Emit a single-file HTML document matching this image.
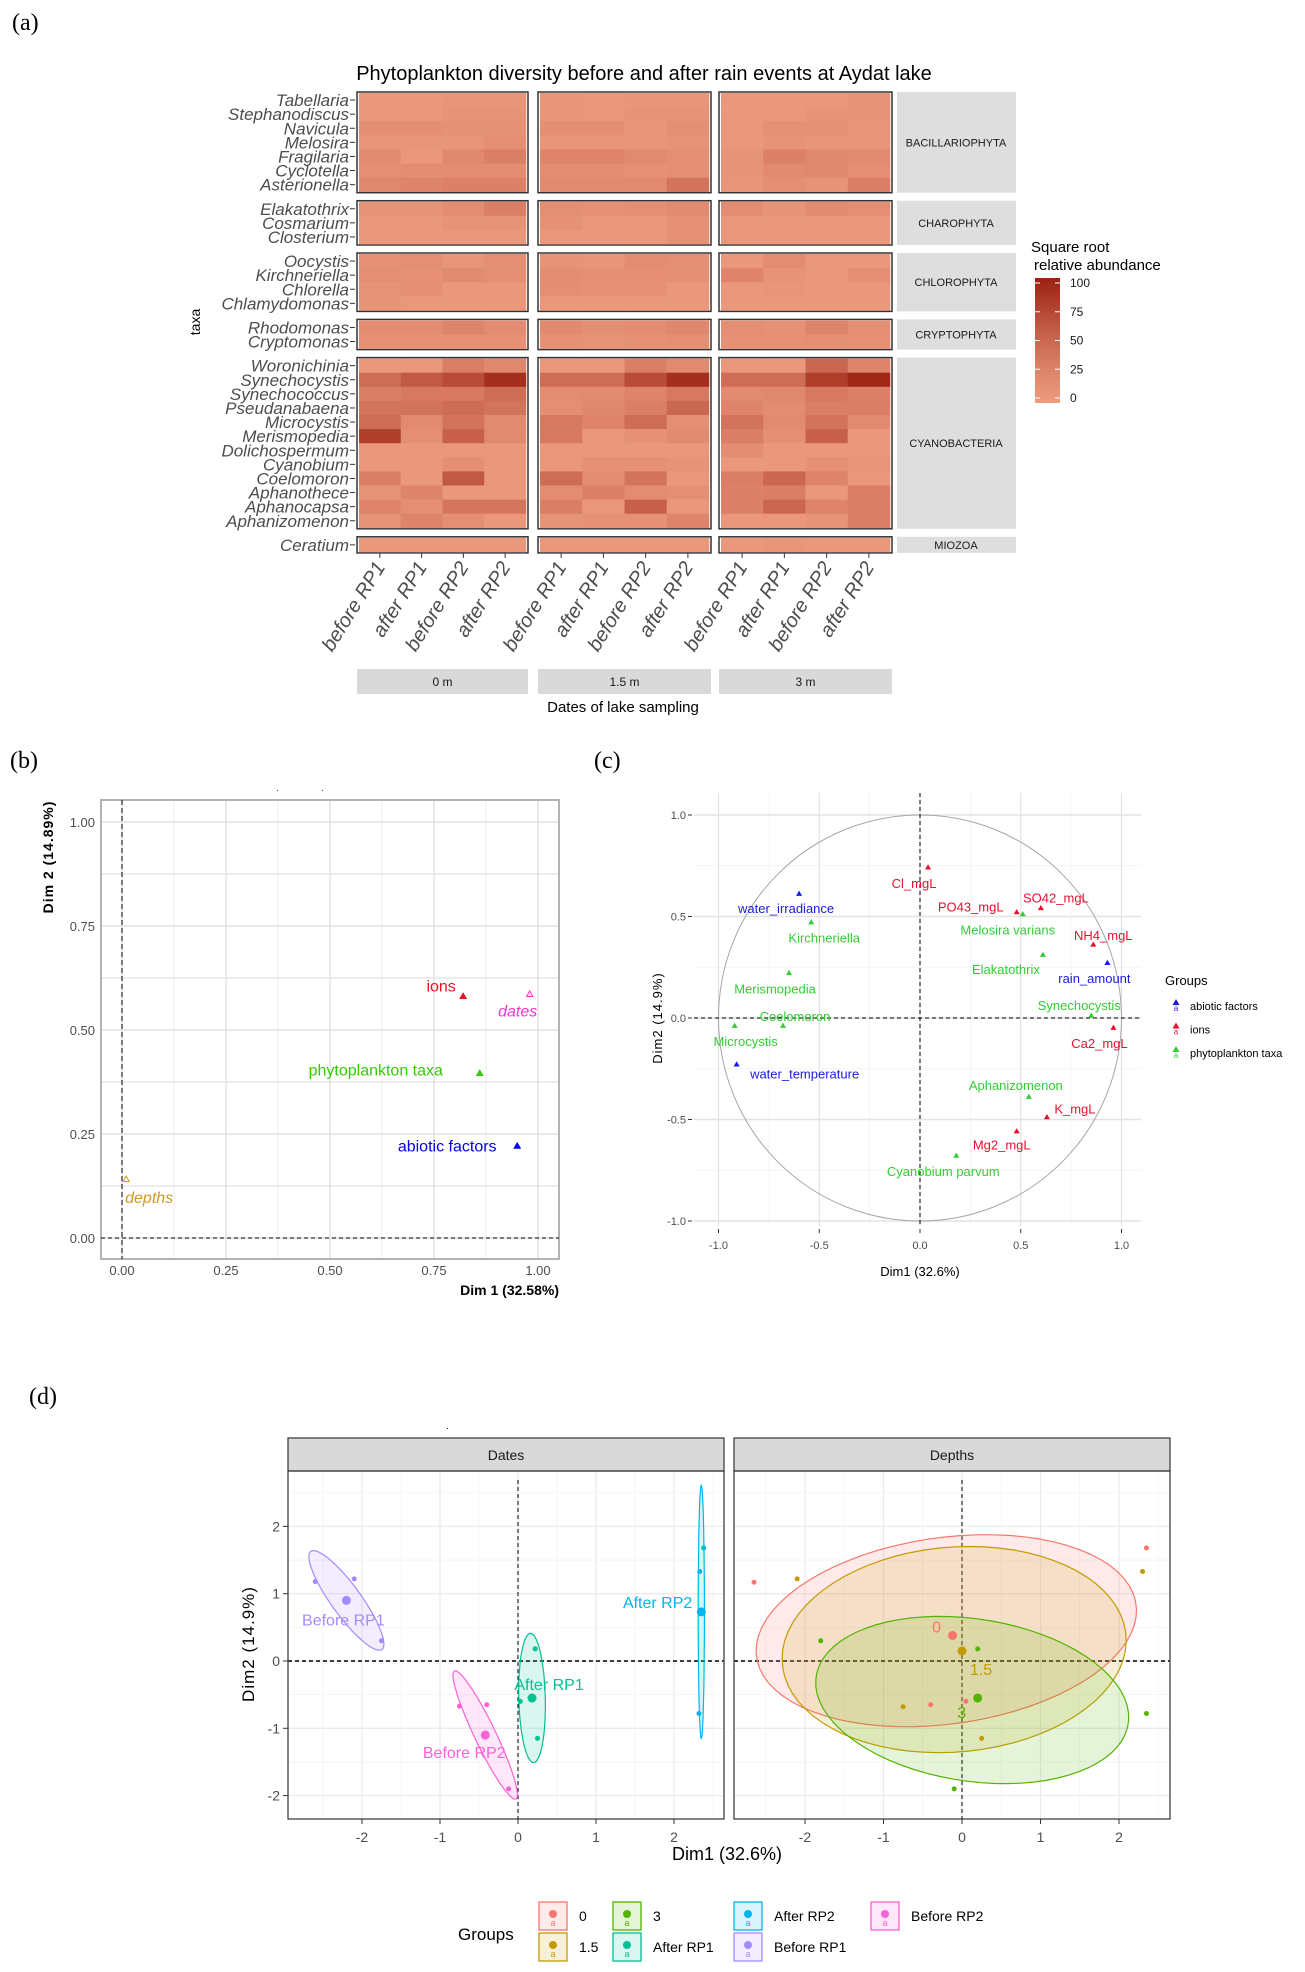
<!DOCTYPE html>
<html><head><meta charset="utf-8"><style>
html,body{margin:0;padding:0;background:#fff}
svg{display:block;font-family:"Liberation Sans",sans-serif}
.lbl{font-family:"Liberation Serif",serif}
</style></head><body>
<svg id="fig" width="1305" height="1972" viewBox="0 0 1305 1972" xmlns="http://www.w3.org/2000/svg">
<rect width="1305" height="1972" fill="#fff"/>
<text class="lbl" x="12" y="30" font-size="24">(a)</text>
<text class="lbl" x="10" y="768" font-size="24">(b)</text>
<text class="lbl" x="594" y="768" font-size="24">(c)</text>
<text class="lbl" x="29" y="1404" font-size="24">(d)</text>
<g id="ga"></g>
<g id="gb"></g>
<g id="gc"></g>
<g id="gd"></g>
</svg>
<script>
// ---------- Panel (a) data ----------
const groupNames=["BACILLARIOPHYTA","CHAROPHYTA","CHLOROPHYTA","CRYPTOPHYTA","CYANOBACTERIA","MIOZOA"];
const groupCounts=[7,3,4,2,12,1];
const taxa=["Tabellaria","Stephanodiscus","Navicula","Melosira","Fragilaria","Cyclotella","Asterionella",
"Elakatothrix","Cosmarium","Closterium",
"Oocystis","Kirchneriella","Chlorella","Chlamydomonas",
"Rhodomonas","Cryptomonas",
"Woronichinia","Synechocystis","Synechococcus","Pseudanabaena","Microcystis","Merismopedia","Dolichospermum","Cyanobium","Coelomoron","Aphanothece","Aphanocapsa","Aphanizomenon",
"Ceratium"];
const depthLabels=["0 m","1.5 m","3 m"];
const dateLabels=["before RP1","after RP1","before RP2","after RP2"];
const heatValues=[
[5,5,8,8, 8,5,8,8, 5,5,5,10],
[5,5,10,10, 8,5,10,10, 5,5,10,10],
[15,15,12,12, 15,15,8,15, 5,12,12,8],
[8,8,8,15, 8,8,8,10, 5,10,8,8],
[20,5,22,30, 25,25,20,15, 10,28,22,20],
[15,18,18,18, 18,18,12,15, 10,20,22,15],
[22,25,28,28, 20,20,20,40, 8,15,10,30],
[10,10,18,30, 15,12,15,20, 18,10,20,15],
[5,5,10,10, 12,5,5,12, 5,5,5,5],
[5,5,5,5, 5,5,5,12, 5,5,5,5],
[12,15,8,15, 10,8,18,15, 5,18,5,5],
[15,12,20,15, 18,15,15,15, 25,10,5,15],
[10,15,5,5, 15,12,12,5, 5,8,5,5],
[10,5,5,5, 5,5,5,5, 5,5,5,5],
[18,18,25,18, 20,15,18,22, 15,12,25,15],
[12,12,12,12, 12,10,12,15, 12,12,15,12],
[5,5,32,22, 5,5,30,20, 5,5,50,25],
[45,60,70,90, 45,45,70,90, 45,45,80,95],
[30,35,35,45, 18,20,25,35, 20,22,35,28],
[40,40,45,40, 15,22,30,50, 25,18,30,30],
[45,20,40,20, 35,25,45,15, 40,20,40,20],
[80,15,55,20, 35,5,12,20, 30,15,55,5],
[5,5,5,5, 5,5,5,5, 18,5,5,5],
[5,5,15,5, 5,12,12,10, 5,5,12,8],
[30,5,60,5, 45,18,40,5, 30,50,25,5],
[10,25,5,5, 18,28,18,15, 28,30,5,30],
[25,15,38,38, 30,5,55,5, 28,50,25,30],
[10,25,15,5, 10,12,12,25, 5,5,10,30],
[5,5,5,5, 5,5,5,5, 5,8,5,5]];
const legendTicks=[0,25,50,75,100];

// ---------- Panel (b) data ----------
const bNames=["ions","dates","phytoplankton taxa","abiotic factors","depths"];
const bX=[0.82,0.98,0.86,0.95,0.01];
const bY=[0.58,0.585,0.395,0.22,0.14];
const bTicks=[0,0.25,0.5,0.75,1];
const bTickLabels=["0.00","0.25","0.50","0.75","1.00"];

// ---------- Panel (c) data ----------
const cNames=["Cl_mgL","water_irradiance","Kirchneriella","PO43_mgL","SO42_mgL","Melosira varians","NH4_mgL","Elakatothrix","rain_amount","Merismopedia","Synechocystis","Coelomoron","Microcystis","Ca2_mgL","water_temperature","Aphanizomenon","K_mgL","Mg2_mgL","Cyanobium parvum"];
const cGroup=[1,0,2,1,1,2,1,2,0,2,2,2,2,1,0,2,1,1,2];
const cX=[0.04,-0.60,-0.54,0.48,0.60,0.51,0.86,0.61,0.93,-0.65,0.85,-0.68,-0.92,0.96,-0.91,0.54,0.63,0.48,0.18];
const cY=[0.74,0.61,0.47,0.52,0.54,0.51,0.36,0.31,0.27,0.22,0.01,-0.04,-0.04,-0.05,-0.23,-0.39,-0.49,-0.56,-0.68];
const cGroupNames=["abiotic factors","ions","phytoplankton taxa"];
const cTicks=[-1,-0.5,0,0.5,1];
const cTickLabels=["-1.0","-0.5","0.0","0.5","1.0"];

// ---------- Panel (d) data ----------
const dTicks=[-2,-1,0,1,2];
const dateGroups=["After RP1","After RP2","Before RP1","Before RP2"];
const dateX=[[0.22,0.03,0.25],[2.38,2.33,2.32],[-2.6,-2.1,-1.75],[-0.75,-0.4,-0.12]];
const dateY=[[0.18,-0.6,-1.15],[1.68,1.33,-0.78],[1.18,1.22,0.3],[-0.67,-0.65,-1.9]];
const dateCX=[0.18,2.35,-2.2,-0.42];
const dateCY=[-0.55,0.73,0.9,-1.1];
const dateEllA=[0.96,1.88,0.86,1.03];
const dateEllB=[0.17,0.04,0.2,0.14];
const dateEllPhi=[-1.55,1.571,-1.02,-1.18];
const depthGroups=["0","1.5","3"];
const depthX=[[-2.65,2.35,-0.4,0.05],[-2.1,2.3,-0.75,0.25],[-1.8,0.2,2.35,-0.1]];
const depthY=[[1.17,1.68,-0.65,-0.6],[1.22,1.33,-0.68,-1.15],[0.3,0.18,-0.78,-1.9]];
const depthCX=[-0.12,0,0.2];
const depthCY=[0.38,0.15,-0.55];
const depthEllCX=[-0.2,-0.1,0.13];
const depthEllCY=[0.45,0.17,-0.58];
const depthEllA=[2.45,2.2,2.02];
const depthEllB=[1.38,1.52,1.2];
const depthEllPhi=[0.18,0.12,-0.2];
const legendGroups=["0","1.5","3","After RP1","After RP2","Before RP1","Before RP2"];

// ---------- helpers ----------
const NS="http://www.w3.org/2000/svg";
function mk(parent,tag,attrs,txt){const e=document.createElementNS(NS,tag);for(const k in attrs)e.setAttribute(k,attrs[k]);if(txt!==undefined)e.textContent=txt;parent.appendChild(e);return e;}
function tri(x,y,s){return `${x},${y-s} ${x-s*0.87},${y+s*0.5} ${x+s*0.87},${y+s*0.5}`;}
function heatColor(v){const t=Math.pow(Math.max(0,Math.min(1,v/100)),1.25);const a=[236,154,126],b=[155,32,16];return `rgb(${a.map((c,i)=>Math.round(c+(b[i]-c)*t)).join(",")})`;}

// ---------- Panel (a) ----------
(function(){
const g=document.getElementById("ga");
const px0=[357,538,719],px1=[528,711,892];
const rowH=14.1,gap=8;
let t=mk(g,"text",{x:644,y:80,"font-size":20,"text-anchor":"middle",fill:"#000"},"Phytoplankton diversity before and after rain events at Aydat lake");


let top=92,ti=0;
groupNames.forEach((gn,gi)=>{
  const n=groupCounts[gi],h=n*rowH+2;
  for(let d=0;d<3;d++){
    const pr=mk(g,"rect",{x:px0[d],y:top,width:px1[d]-px0[d],height:h,fill:"#fff",stroke:"#333","stroke-width":1.5});
    
    
    const cw=(px1[d]-px0[d]-4)/4;
    for(let r=0;r<n;r++){
      for(let c=0;c<4;c++){
        const v=heatValues[ti+r][d*4+c];
        const cell=mk(g,"rect",{x:px0[d]+2+c*cw,y:top+1+r*rowH,width:cw+0.3,height:rowH+0.3,fill:heatColor(v)});
        
        
      }
    }
  }
  const st=mk(g,"rect",{x:897,y:top,width:119,height:h,fill:"#DEDEDE"});
  
  
  const stt=mk(g,"text",{x:956,y:top+h/2+4,"font-size":11,"text-anchor":"middle",fill:"#1A1A1A"},gn);
  
  
  for(let r=0;r<n;r++){
    const yc=top+1+r*rowH+rowH/2;
    const rl=mk(g,"text",{x:349,y:yc+6,"font-size":17,"font-style":"italic","text-anchor":"end",fill:"#4D4D4D"},taxa[ti+r]);
    
    
    mk(g,"line",{x1:350,x2:355,y1:yc,y2:yc,stroke:"#333"});
  }
  ti+=n;top+=h+gap;
});
const bottom=top-gap;
for(let d=0;d<3;d++){
  const cw=(px1[d]-px0[d]-4)/4;
  for(let c=0;c<4;c++){
    const cx=px0[d]+2+cw*(c+0.5);
    mk(g,"line",{x1:cx,x2:cx,y1:bottom,y2:bottom+5,stroke:"#333"});
    const xl=mk(g,"text",{x:0,y:0,"font-size":20,"font-style":"italic","text-anchor":"end",fill:"#4D4D4D",transform:`translate(${cx+6},${bottom+14}) rotate(-58)`},dateLabels[c]);
    
    
  }
  const ds=mk(g,"rect",{x:px0[d],y:669,width:px1[d]-px0[d],height:25,fill:"#D9D9D9"});
  
  
  const dt=mk(g,"text",{x:(px0[d]+px1[d])/2,y:686,"font-size":12,"text-anchor":"middle",fill:"#1A1A1A"},depthLabels[d]);
  
  
}
t=mk(g,"text",{x:623,y:712,"font-size":15,"text-anchor":"middle"},"Dates of lake sampling");


t=mk(g,"text",{x:0,y:0,"font-size":14,"text-anchor":"middle",transform:"translate(200,322) rotate(-90)"},"taxa");


// legend
t=mk(g,"text",{x:1031,y:252,"font-size":15},"Square root");


t=mk(g,"text",{x:1034,y:270,"font-size":15},"relative abundance");


const defs=mk(document.getElementById("fig"),"defs",{});
const lg=mk(defs,"linearGradient",{id:"hg",x1:0,y1:1,x2:0,y2:0});
for(let k=0;k<=10;k++) mk(lg,"stop",{offset:String(k/10),"stop-color":heatColor(k*10)});
const cb=mk(g,"rect",{x:1035,y:278,width:25,height:125,fill:"url(#hg)"});


legendTicks.forEach(v=>{
  const y=398-v*1.15;
  mk(g,"line",{x1:1035,x2:1040,y1:y,y2:y,stroke:"#fff"});
  mk(g,"line",{x1:1055,x2:1060,y1:y,y2:y,stroke:"#fff"});
  const l=mk(g,"text",{x:1070,y:y+4,"font-size":12,fill:"#1A1A1A"},String(v));
  
  
});
})();

// ---------- Panel (b) ----------
(function(){
const g=document.getElementById("gb");
const sx=v=>122+v*416, sy=v=>1238-v*416;
const bColors=["#EE1122","#FF33CC","#33CC00","#0000EE","#CC9922"];
const bOpen=[false,true,false,false,true];
const bItalic=[false,true,false,false,true];
const bLdx=[-22,-12,-104,-70,23];
const bLdy=[-5,22,2,5,23];
for(let v=0;v<=1.0001;v+=0.125){
  const major=Math.abs(v*4-Math.round(v*4))<0.01;
  mk(g,"line",{x1:sx(v),x2:sx(v),y1:800,y2:1259,stroke:major?"#DCDCDC":"#EBEBEB","stroke-width":major?1.2:0.8});
  mk(g,"line",{x1:101,x2:559,y1:sy(v),y2:sy(v),stroke:major?"#DCDCDC":"#E6E6E6","stroke-width":major?1.2:1.6});
}
const fr=mk(g,"rect",{x:101,y:800,width:458,height:459,fill:"none",stroke:"#B3B3B3","stroke-width":2});


mk(g,"line",{x1:sx(0),x2:sx(0),y1:800,y2:1259,stroke:"#000","stroke-dasharray":"5,3"});
mk(g,"line",{x1:101,x2:559,y1:sy(0),y2:sy(0),stroke:"#000","stroke-dasharray":"4,3"});
bTicks.forEach((v,i)=>{
  let l=mk(g,"text",{x:95,y:sy(v)+5,"font-size":13,"text-anchor":"end",fill:"#4D4D4D"},bTickLabels[i]);
  
  
  l=mk(g,"text",{x:sx(v),y:1275,"font-size":13,"text-anchor":"middle",fill:"#4D4D4D"},bTickLabels[i]);
  
  
});
let t=mk(g,"text",{x:559,y:1295,"font-size":14,"font-weight":"bold","text-anchor":"end"},"Dim 1 (32.58%)");


t=mk(g,"text",{x:0,y:0,"font-size":14,"font-weight":"bold","text-anchor":"middle","letter-spacing":"1",transform:"translate(53,857) rotate(-90)"},"Dim 2 (14.89%)");


mk(g,"text",{x:276,y:791,"font-size":10,fill:"#333"},".");
mk(g,"text",{x:321,y:791,"font-size":10,fill:"#333"},".");
bNames.forEach((n,i)=>{
  const x=sx(bX[i]),y=sy(bY[i]);
  const p=mk(g,"polygon",{points:tri(x,y,3.6),fill:bOpen[i]?"none":bColors[i],stroke:bColors[i],"stroke-width":1});
  
  
  const l=mk(g,"text",{x:x+bLdx[i],y:y+bLdy[i],"font-size":16,"text-anchor":"middle",fill:bColors[i],"font-style":bItalic[i]?"italic":"normal"},n);
  
  
});
})();

// ---------- Panel (c) ----------
(function(){
const g=document.getElementById("gc");
const sx=v=>920+v*201.5, sy=v=>1018-v*203;
const cColors=["#1A1AE6","#E8102E","#33CC33"];
const cLdx=[-14,-13,13,-46,15,-15,10,-37,-13,-14,-12,12,11,-14,68,-13,28,-15,-13];
const cLdy=[16,15,16,-5,-10,16,-9,15,16,16,-10,-9,16,16,10,-11,-8,14,16];
for(let v=-1.25;v<=1.2501;v+=0.25){
  const major=Math.abs(v*2-Math.round(v*2))<0.01;
  const x=sx(v),y=sy(v);
  if(x>=694&&x<=1141) mk(g,"line",{x1:x,x2:x,y1:793,y2:1226,stroke:major?"#E3E3E3":"#F0F0F0","stroke-width":major?1.2:0.8});
  if(y>=793&&y<=1226) mk(g,"line",{x1:694,x2:1141,y1:y,y2:y,stroke:major?"#E3E3E3":"#F0F0F0","stroke-width":major?1.6:0.8});
}
const circ=mk(g,"ellipse",{cx:sx(0),cy:sy(0),rx:201.5,ry:203,fill:"none",stroke:"#A6A6A6","stroke-width":1});


mk(g,"line",{x1:sx(0),x2:sx(0),y1:793,y2:1226,stroke:"#000","stroke-dasharray":"4,3"});
mk(g,"line",{x1:694,x2:1141,y1:sy(0),y2:sy(0),stroke:"#000","stroke-dasharray":"4,3"});
cTicks.forEach((v,i)=>{
  let l=mk(g,"text",{x:686,y:sy(v)+4,"font-size":11,"text-anchor":"end",fill:"#4D4D4D"},cTickLabels[i]);
  
  
  mk(g,"line",{x1:688,x2:692,y1:sy(v),y2:sy(v),stroke:"#333"});
  l=mk(g,"text",{x:sx(v),y:1249,"font-size":11,"text-anchor":"middle",fill:"#4D4D4D"},cTickLabels[i]);
  
  
  mk(g,"line",{x1:sx(v),x2:sx(v),y1:1229,y2:1233,stroke:"#333"});
});
let t=mk(g,"text",{x:920,y:1276,"font-size":13,"text-anchor":"middle"},"Dim1 (32.6%)");


t=mk(g,"text",{x:0,y:0,"font-size":13,"text-anchor":"middle","letter-spacing":"1",transform:"translate(662,1018) rotate(-90)"},"Dim2 (14.9%)");


cNames.forEach((n,i)=>{
  const x=sx(cX[i]),y=sy(cY[i]),col=cColors[cGroup[i]];
  const p=mk(g,"polygon",{points:tri(x,y,3.5),fill:col});
  
  
  const l=mk(g,"text",{x:x+cLdx[i],y:y+cLdy[i]+4,"font-size":13,"text-anchor":"middle",fill:col},n);
  
  
});
t=mk(g,"text",{x:1165,y:985,"font-size":13},"Groups");


cGroupNames.forEach((n,i)=>{
  const y=1003+i*23.5;
  const p=mk(g,"polygon",{points:tri(1176,y,4),fill:cColors[i]});
  
  
  mk(g,"text",{x:1176,y:y+8,"font-size":8,"text-anchor":"middle",fill:cColors[i]},"a");
  const l=mk(g,"text",{x:1190,y:y+7,"font-size":11},n);
  
  
});
})();

// ---------- Panel (d) ----------
(function(){
const g=document.getElementById("gd");
const sy=v=>1661-v*67.3;
const sxA=v=>518+v*78, sxB=v=>962+v*78.5;
const colMap={"0":"#F8766D","1.5":"#C49A00","3":"#53B400","After RP1":"#00C094","After RP2":"#00B6EB","Before RP1":"#A58AFF","Before RP2":"#FB61D7"};
const panels=[{x0:288,x1:724,name:"Dates",sx:sxA},{x0:734,x1:1170,name:"Depths",sx:sxB}];
panels.forEach(P=>{
  const bg=mk(g,"rect",{x:P.x0,y:1471,width:P.x1-P.x0,height:348,fill:"#fff"});
  
  
  for(let v=-3;v<=3.01;v+=0.5){
    const major=Math.abs(v-Math.round(v))<0.01;
    const x=P.sx(v),y=sy(v);
    if(x>P.x0&&x<P.x1) mk(g,"line",{x1:x,x2:x,y1:1471,y2:1819,stroke:major?"#EBEBEB":"#F3F3F3","stroke-width":major?1.3:0.8});
    if(y>1471&&y<1819) mk(g,"line",{x1:P.x0,x2:P.x1,y1:y,y2:y,stroke:major?"#EBEBEB":"#F3F3F3","stroke-width":major?1.3:0.8});
  }
  mk(g,"line",{x1:P.sx(0),x2:P.sx(0),y1:1480,y2:1819,stroke:"#000","stroke-dasharray":"4,3"});
  mk(g,"line",{x1:P.x0,x2:P.x1,y1:sy(0),y2:sy(0),stroke:"#000","stroke-width":1.5,"stroke-dasharray":"4,3"});
  const st=mk(g,"rect",{x:P.x0,y:1438,width:P.x1-P.x0,height:33,fill:"#D9D9D9",stroke:"#333","stroke-width":1.2});
  
  
  const stt=mk(g,"text",{x:(P.x0+P.x1)/2,y:1460,"font-size":14,"text-anchor":"middle",fill:"#1A1A1A"},P.name);
  
  
  dTicks.forEach(v=>{
    const l=mk(g,"text",{x:P.sx(v),y:1842,"font-size":14,"text-anchor":"middle",fill:"#4D4D4D"},String(v));
    
    
    mk(g,"line",{x1:P.sx(v),x2:P.sx(v),y1:1819,y2:1824,stroke:"#333"});
  });
});
dTicks.forEach(v=>{
  const l=mk(g,"text",{x:280,y:sy(v)+5,"font-size":14,"text-anchor":"end",fill:"#4D4D4D"},String(v));
  
  
  mk(g,"line",{x1:283,x2:288,y1:sy(v),y2:sy(v),stroke:"#333"});
});
function ell(sx,cx,cy,a,b,phi){
  let d="";
  for(let k=0;k<=72;k++){const t=k/72*2*Math.PI;const u=a*Math.cos(t),w=b*Math.sin(t);
    const x=cx+u*Math.cos(phi)-w*Math.sin(phi), y=cy+u*Math.sin(phi)+w*Math.cos(phi);
    d+=(k?"L":"M")+sx(x).toFixed(1)+","+sy(y).toFixed(1);}
  return d+"Z";
}
depthGroups.forEach((n,i)=>{
  const c=colMap[n];
  const e=mk(g,"path",{d:ell(sxB,depthEllCX[i],depthEllCY[i],depthEllA[i],depthEllB[i],depthEllPhi[i]),fill:c,"fill-opacity":0.15,stroke:c,"stroke-width":1.2});
  
  
});
depthGroups.forEach((n,i)=>{
  const c=colMap[n];
  depthX[i].forEach((x,k)=>{
    const p=mk(g,"circle",{cx:sxB(x),cy:sy(depthY[i][k]),r:2.5,fill:c});
    
    
  });
  const m=mk(g,"circle",{cx:sxB(depthCX[i]),cy:sy(depthCY[i]),r:4.5,fill:c});
  
  
});
const dlx=[-16,19,-16],dly=[-9,18,14];
depthGroups.forEach((n,i)=>{
  const l=mk(g,"text",{x:sxB(depthCX[i])+dlx[i],y:sy(depthCY[i])+dly[i]+6,"font-size":16,"text-anchor":"middle",fill:colMap[n]},n);
  
  
});
const glx=[17,-9,-3,-21],gly=[-14,-10,19,17];
const ganchor=["middle","end","middle","middle"];
dateGroups.forEach((n,i)=>{
  const c=colMap[n];
  const e=mk(g,"path",{d:ell(sxA,dateCX[i],dateCY[i],dateEllA[i],dateEllB[i],dateEllPhi[i]),fill:c,"fill-opacity":0.15,stroke:c,"stroke-width":1.2});
  
  
  dateX[i].forEach((x,k)=>{
    const p=mk(g,"circle",{cx:sxA(x),cy:sy(dateY[i][k]),r:2.5,fill:c});
    
    
  });
  const m=mk(g,"circle",{cx:sxA(dateCX[i]),cy:sy(dateCY[i]),r:4.5,fill:c});
  
  
  const l=mk(g,"text",{x:sxA(dateCX[i])+glx[i],y:sy(dateCY[i])+gly[i]+6,"font-size":16,"text-anchor":ganchor[i],fill:c},n);
  
  
});
panels.forEach(P=>{
  const fr=mk(g,"rect",{x:P.x0,y:1471,width:P.x1-P.x0,height:348,fill:"none",stroke:"#333","stroke-width":1.2});
  
  
});
mk(g,"text",{x:446,y:1429,"font-size":10},".");
let t=mk(g,"text",{x:727,y:1860,"font-size":18,"text-anchor":"middle"},"Dim1 (32.6%)");


t=mk(g,"text",{x:0,y:0,"font-size":17,"text-anchor":"middle","letter-spacing":"1",transform:"translate(254,1644) rotate(-90)"},"Dim2 (14.9%)");


t=mk(g,"text",{x:458,y:1940,"font-size":17},"Groups");


const keyX=[539,539,613,613,734,734,871];
const keyRow=[0,1,0,1,0,1,0];
legendGroups.forEach((n,i)=>{
  const c=colMap[n];const y=1902+keyRow[i]*31;
  const k=mk(g,"rect",{x:keyX[i],y:y,width:28,height:28,fill:c,"fill-opacity":0.15,stroke:c,"stroke-width":1.3});
  
  
  mk(g,"circle",{cx:keyX[i]+14,cy:y+12,r:4,fill:c});
  mk(g,"text",{x:keyX[i]+14,y:y+24,"font-size":9,"text-anchor":"middle",fill:c},"a");
  const l=mk(g,"text",{x:keyX[i]+40,y:y+19,"font-size":14},n);
  
  
});
})();
</script>
</body></html>
